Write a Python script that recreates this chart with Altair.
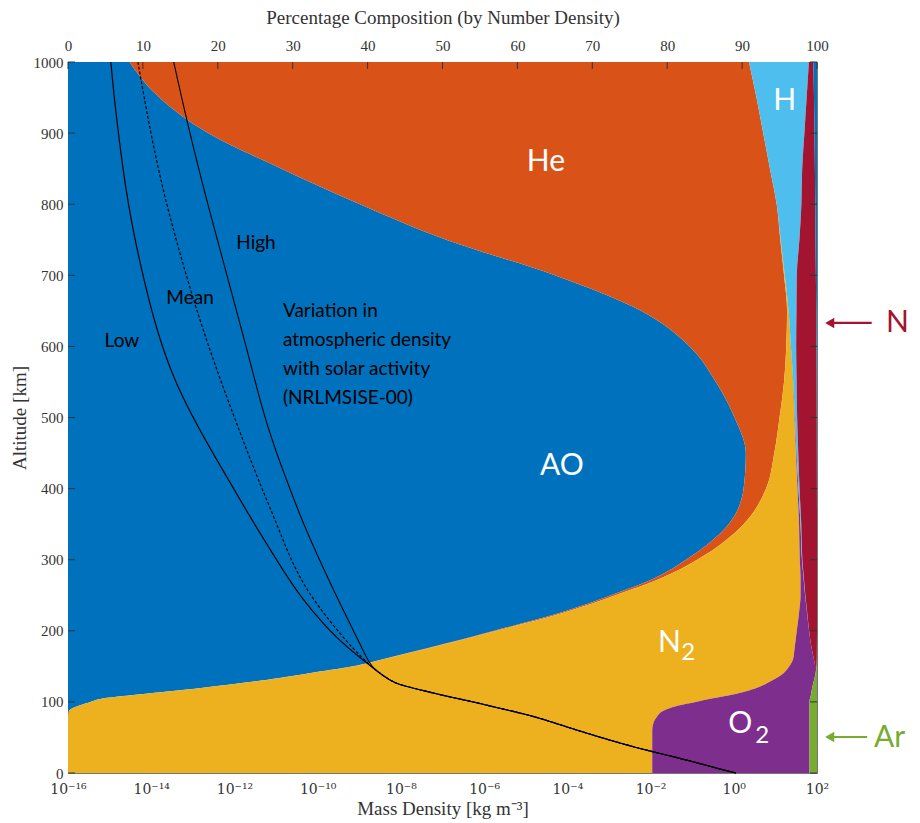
import altair as alt
import pandas as pd

# ---------------- composition data (percent by number density) ----------------
altitude = [0, 20, 40, 60, 70, 80, 85, 90, 95, 100, 105, 110, 120, 130, 140, 150, 160, 175,
            200, 225, 250, 275, 300, 350, 400, 450, 500, 550, 600, 650, 700, 750, 800, 850,
            900, 950, 1000]

AO = [0, 0, 0, 0, 0, 0, 0.05, 0.4, 1.5, 3.0, 4.8, 9.0, 18.0, 25.8, 32.0, 38.0, 42.0, 47.8,
      56.9, 65.6, 72.5, 78.5, 82.5, 88.2, 90.2, 90.5, 89.0, 86.5, 83.0, 76.5, 65.0, 50.5, 39.0, 28.5,
      18.7, 12.2, 8.2]
He = [0, 0, 0, 0, 0, 0, 0, 0, 0, 0, 0, 0.02, 0.05, 0.08, 0.1, 0.12, 0.15, 0.2,
      0.3, 0.45, 0.6, 0.9, 1.5, 2.0, 3.0, 3.8, 6.0, 9.1, 12.9, 19.5, 30.6, 44.6, 55.62, 65.22,
      74.12, 79.72, 82.72]
N2 = [78.0, 78.0, 78.0, 78.0, 78.15, 78.7, 79.05, 79.6, 80.0, 80.8, 81.3, 79.58, 73.95, 68.12, 63.4, 58.18, 54.65, 49.0,
      40.1, 31.55, 24.7, 18.4, 13.7, 7.4, 4.2, 2.9, 2.0, 1.2, 0.6, 0.2, 0.1, 0.05, 0, 0,
      0, 0, 0]
O2 = [21.0, 21.0, 21.0, 21.0, 20.85, 20.3, 19.9, 19.0, 17.5, 15.2, 12.97, 10.6, 7.35, 5.6, 4.25, 3.45, 2.78, 2.29,
      1.64, 1.08, 0.62, 0.41, 0.30, 0.2, 0.12, 0.08, 0.05, 0.03, 0.02, 0.01, 0, 0, 0, 0,
      0, 0, 0]
H = [0, 0, 0, 0, 0, 0, 0, 0, 0, 0, 0, 0, 0, 0, 0, 0, 0, 0,
     0.01, 0.02, 0.03, 0.04, 0.05, 0.1, 0.15, 0.22, 0.3, 0.45, 0.7, 1.05, 1.6, 2.5, 3.3, 4.3,
     5.5, 6.7, 8.0]
N = [0, 0, 0, 0, 0, 0, 0, 0, 0, 0, 0, 0, 0, 0, 0.05, 0.2, 0.4, 0.7,
     1.05, 1.3, 1.55, 1.75, 1.95, 2.1, 2.32, 2.48, 2.62, 2.67, 2.7, 2.64, 2.55, 2.15, 1.85, 1.7,
     1.35, 0.98, 0.6]
Ar = [1.0, 1.0, 1.0, 1.0, 1.0, 1.0, 1.0, 1.0, 1.0, 1.0, 0.93, 0.8, 0.65, 0.4, 0.2, 0.05, 0.02, 0.01,
      0, 0, 0, 0, 0, 0, 0, 0, 0, 0, 0, 0, 0, 0, 0, 0,
      0, 0, 0]
AnO = [0, 0, 0, 0, 0, 0, 0, 0, 0, 0, 0, 0, 0, 0, 0, 0, 0, 0,
       0, 0, 0, 0, 0, 0, 0.01, 0.02, 0.03, 0.05, 0.08, 0.1, 0.15, 0.2, 0.23, 0.28,
       0.33, 0.4, 0.48]

species = ["AO", "He", "N2", "O2", "H", "N", "Ar", "AnO"]
species_values = [AO, He, N2, O2, H, N, Ar, AnO]
species_colors = ["#0072BD", "#D95319", "#EDB120", "#7E2F8E", "#4DBEEE", "#A2142F", "#77AC30", "#0072BD"]

# ---------------- mass density (log10 kg m^-3) ----------------
dens_alt = [0, 5, 13.6, 20, 30, 37, 50, 65, 80, 91, 100, 107, 115, 124, 130, 140, 150, 175, 200,
            250, 300, 350, 400, 450, 500, 550, 600, 650, 700, 750, 800, 850, 900, 950, 1000]
low_log = [0.05, -0.3, -0.83, -1.25, -1.95, -2.43, -3.2, -4.03, -4.8, -5.63, -6.25, -6.83, -7.4, -8.03, -8.25,
           -8.5, -8.72, -9.25, -9.72, -10.45, -10.99, -11.52, -12.02, -12.52, -13.0, -13.42, -13.74,
           -13.99, -14.2, -14.39, -14.55, -14.68, -14.79, -14.89, -14.97]
mean_log = [0.05, -0.3, -0.83, -1.25, -1.95, -2.43, -3.2, -4.03, -4.8, -5.63, -6.25, -6.83, -7.4, -8.03, -8.25,
            -8.5, -8.72, -9.15, -9.52, -10.2, -10.65, -10.98, -11.34, -11.68, -12.0, -12.32, -12.62,
            -12.9, -13.16, -13.4, -13.63, -13.83, -14.01, -14.17, -14.32]
high_log = [0.05, -0.3, -0.83, -1.25, -1.95, -2.43, -3.2, -4.03, -4.8, -5.63, -6.25, -6.83, -7.4, -8.03, -8.25,
            -8.5, -8.72, -8.93, -9.14, -9.56, -9.96, -10.34, -10.67, -10.99, -11.27, -11.5, -11.72,
            -11.95, -12.18, -12.41, -12.64, -12.86, -13.07, -13.27, -13.46]

# ---------------- tick values ----------------
pct_ticks = list(range(0, 101, 10))
alt_ticks = list(range(0, 1001, 100))
dens_ticks = [10.0 ** e for e in range(-16, 3, 2)]

# ---------------- annotations ----------------
white_labels = pd.DataFrame({
    "text": ["He", "H", "AO", "N", "2", "O", "2"],
    "x": [63.8, 95.7, 65.95, 80.3, 82.8, 89.75, 92.7],
    "y": [859, 945, 432, 183, 169, 69, 52.5],
    "size": [30, 30, 30, 30, 24, 30, 24],
})
curve_labels = pd.DataFrame({
    "text": ["High", "Mean", "Low"],
    "x": [25.1, 16.3, 7.2],
    "y": [745, 668, 608],
})
note_lines = pd.DataFrame({
    "text": ["Variation in", "atmospheric density", "with solar activity", "(NRLMSISE-00)"],
    "x": [28.7, 28.7, 28.7, 28.7],
    "y": [650, 609, 568, 527],
})
side_labels = pd.DataFrame({
    "text": ["N", "Ar"],
    "x": [109.2, 107.6],
    "y": [633, 49],
    "color": ["#A2142F", "#77AC30"],
})
arrows = pd.DataFrame({
    "x": [101.7, 101.7],
    "x2": [107.3, 106.7],
    "y": [633, 50.6],
    "color": ["#A2142F", "#77AC30"],
})

# ---------------- build tables ----------------
rows = []
for k, (sp, vals) in enumerate(zip(species, species_values)):
    for a, v in zip(altitude, vals):
        rows.append({"alt": a, "pct": v, "species": sp, "k": k})
comp_df = pd.DataFrame(rows)

drows = []
for case, arr in [("Low", low_log), ("Mean", mean_log), ("High", high_log)]:
    for a, lv in zip(dens_alt, arr):
        drows.append({"alt": a, "rho": 10.0 ** lv, "case": case})
dens_df = pd.DataFrame(drows)

SERIF = "Liberation Serif"
SANS = "Lato"
AX = "#333333"

pct_scale = alt.Scale(domain=[0, 100], nice=False, zero=False)
alt_scale = alt.Scale(domain=[0, 1000], nice=False, zero=False)
dens_scale = alt.Scale(type="log", domain=[1e-16, 1e2], nice=False)

sup = {"0": "⁰", "1": "¹", "2": "²", "3": "³", "4": "⁴", "5": "⁵", "6": "⁶",
       "7": "⁷", "8": "⁸", "9": "⁹", "-": "⁻"}
expr = "('' + round(log(datum.value) / LN10))"
for k, v in sup.items():
    expr = f"replace({expr}, regexp('{k}', 'g'), '{v}')"
label_expr = "'10' + " + expr

pct_axis = alt.Axis(orient="top", values=pct_ticks, title="Percentage Composition (by Number Density)",
                    labelPadding=9, titlePadding=11, minExtent=24, maxExtent=24, labelFlush=False)
alt_axis = alt.Axis(orient="left", values=alt_ticks, format="d", title="Altitude [km]",
                    labelPadding=5, titlePadding=3, minExtent=36, maxExtent=36, labelFlush=False)
dens_axis = alt.Axis(orient="bottom", values=dens_ticks, labelExpr=label_expr, labelFlush=False,
                     labelFont="DejaVu Serif", labelFontSize=14,
                     title="Mass Density [kg m⁻³]", labelPadding=9, titlePadding=3)

areas = alt.Chart(comp_df).mark_area(orient="horizontal", interpolate="monotone").encode(
    x=alt.X("pct:Q", stack="zero", scale=pct_scale, axis=pct_axis),
    y=alt.Y("alt:Q", scale=alt_scale, axis=alt_axis),
    color=alt.Color("species:N", scale=alt.Scale(domain=species, range=species_colors), legend=None),
    order=alt.Order("k:Q"),
)

ytick_df = pd.DataFrame({"v": alt_ticks})
xtick_df = pd.DataFrame({"v": pct_ticks})
left_ticks = alt.Chart(ytick_df).mark_rule(color="#333333", strokeWidth=1).encode(
    y=alt.Y("v:Q", scale=alt_scale, axis=alt_axis), x=alt.value(0), x2=alt.value(7))
right_ticks = alt.Chart(ytick_df).mark_rule(color="#333333", strokeWidth=1).encode(
    y=alt.Y("v:Q", scale=alt_scale, axis=alt_axis), x=alt.value(742), x2=alt.value(749))
top_ticks = alt.Chart(xtick_df).mark_rule(color="#333333", strokeWidth=1).encode(
    x=alt.X("v:Q", scale=pct_scale, axis=pct_axis), y=alt.value(0), y2=alt.value(7))

white_text = alt.Chart(white_labels).mark_text(font=SANS, color="white", align="center", baseline="middle").encode(
    x=alt.X("x:Q", scale=pct_scale, axis=pct_axis), y=alt.Y("y:Q", scale=alt_scale, axis=alt_axis),
    text="text:N", size=alt.Size("size:Q", scale=None, legend=None))
curve_text = alt.Chart(curve_labels).mark_text(font=SANS, color="black", fontSize=19, align="center", baseline="middle").encode(
    x=alt.X("x:Q", scale=pct_scale, axis=pct_axis), y=alt.Y("y:Q", scale=alt_scale, axis=alt_axis), text="text:N")
note_text = alt.Chart(note_lines).mark_text(font=SANS, color="black", fontSize=19, align="left", baseline="middle").encode(
    x=alt.X("x:Q", scale=pct_scale, axis=pct_axis), y=alt.Y("y:Q", scale=alt_scale, axis=alt_axis), text="text:N")
side_text = alt.Chart(side_labels).mark_text(font=SANS, fontSize=30, align="left", baseline="middle").encode(
    x=alt.X("x:Q", scale=pct_scale, axis=pct_axis), y=alt.Y("y:Q", scale=alt_scale, axis=alt_axis), text="text:N",
    color=alt.Color("color:N", scale=None, legend=None))
arrow_lines = alt.Chart(arrows).mark_rule(strokeWidth=2.2).encode(
    x=alt.X("x:Q", scale=pct_scale, axis=pct_axis), x2="x2:Q", y=alt.Y("y:Q", scale=alt_scale, axis=alt_axis),
    color=alt.Color("color:N", scale=None, legend=None))
arrow_heads = alt.Chart(arrows).mark_point(shape="triangle-left", filled=True, size=110, opacity=1).encode(
    x=alt.X("x:Q", scale=pct_scale, axis=pct_axis), y=alt.Y("y:Q", scale=alt_scale, axis=alt_axis),
    color=alt.Color("color:N", scale=None, legend=None))

comp_layer = alt.layer(areas, left_ticks, right_ticks, top_ticks, white_text, curve_text, note_text,
                       side_text, arrow_lines, arrow_heads)

dens_lines = alt.Chart(dens_df).mark_line(interpolate="basis", color="black").encode(
    x=alt.X("rho:Q", scale=dens_scale, axis=dens_axis),
    y=alt.Y("alt:Q", scale=alt_scale, axis=alt_axis),
    order=alt.Order("alt:Q"),
    detail="case:N",
    strokeDash=alt.StrokeDash("case:N", scale=alt.Scale(domain=["Low", "Mean", "High"],
                                                        range=[[1, 0], [3, 2], [1, 0]]), legend=None),
    strokeWidth=alt.StrokeWidth("case:N", scale=alt.Scale(domain=["Low", "Mean", "High"],
                                                          range=[1.2, 1.1, 0.8]), legend=None),
    strokeOpacity=alt.StrokeOpacity("case:N", scale=alt.Scale(domain=["Low", "Mean", "High"],
                                                              range=[1, 1, 0.75]), legend=None),
)

chart = alt.layer(comp_layer, dens_lines).resolve_scale(x="independent").properties(
    width=749, height=711,
    padding={"left": 60, "top": 54, "right": 95, "bottom": 48},
    autosize=alt.AutoSizeParams(type="none"),
).configure_view(stroke="#777777", strokeWidth=1).configure_axis(
    labelFont=SERIF, titleFont=SERIF, labelFontSize=15, titleFontSize=19, titleFontWeight="normal",
    labelColor=AX, titleColor=AX, domain=False, ticks=False, grid=False,
)

chart.save("out.html", embed_options={"renderer": "svg", "actions": False})
